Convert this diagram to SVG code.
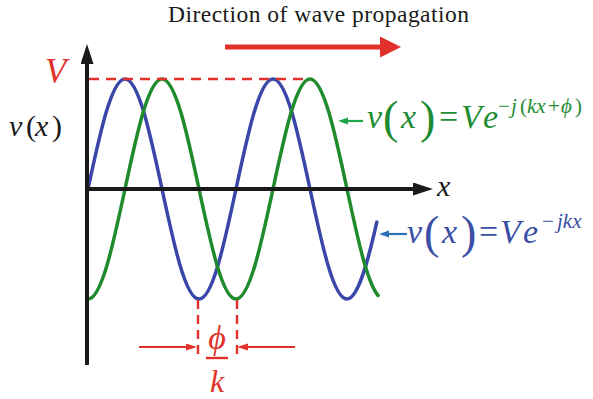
<svg xmlns="http://www.w3.org/2000/svg" width="593" height="399" viewBox="0 0 593 399">
<style>
text{font-family:'Liberation Serif','Times New Roman',Times,'DejaVu Serif',serif}
.it{font-style:italic}
.red{fill:#e2312a}
.grn{fill:#1e8c32}
.blu{fill:#3a4ea6}
.blk{fill:#1a1a1a}
.wave{fill:none;stroke-width:3.5;stroke-linecap:round}
.dash{fill:none;stroke:#e2312a;stroke-width:2.4}
</style>
<defs>
<marker id="axHead" markerUnits="userSpaceOnUse" markerWidth="22" markerHeight="14" refX="1" refY="6.5" orient="auto"><path d="M0,0 L20,6.5 L0,13 z" fill="#1a1a1a"/></marker>
<marker id="dirHead" markerUnits="userSpaceOnUse" markerWidth="24" markerHeight="24" refX="1" refY="10.5" orient="auto"><path d="M0,0 L21,10.5 L0,21 z" fill="#e2312a"/></marker>
<marker id="redHead" markerUnits="userSpaceOnUse" markerWidth="12" markerHeight="8" refX="1" refY="3.5" orient="auto"><path d="M0,0 L11,3.5 L0,7 z" fill="#e2312a"/></marker>
<marker id="grnHead" markerUnits="userSpaceOnUse" markerWidth="12" markerHeight="8" refX="1" refY="3.5" orient="auto"><path d="M0,0 L10,3.5 L0,7 z" fill="#21a64a"/></marker>
<marker id="bluHead" markerUnits="userSpaceOnUse" markerWidth="12" markerHeight="8" refX="1" refY="3.5" orient="auto"><path d="M0,0 L10,3.5 L0,7 z" fill="#2b72b9"/></marker>
</defs>
<rect width="593" height="399" fill="#ffffff"/>

<g id="title">
<text class="blk" x="168" y="22" font-size="23.5" textLength="301" lengthAdjust="spacing">Direction of wave propagation</text>
</g>

<g id="wave-blue">
<path class="wave" stroke="#3a46a8" d="M88,189 C100.07,132.65 111.61,79 125,79 C138.39,79 149.93,132.65 162,189 C174.07,245.35 185.61,299 199,299 C212.39,299 223.93,245.35 236,189 C248.07,132.65 259.61,79 273,79 C286.39,79 297.93,132.65 310,189 C322.07,245.35 333.61,299 347,299 C357.71,299 367.24,264.66 376.8,222.1"/>
</g>
<g id="wave-green">
<path class="wave" stroke="#1f8b2c" d="M88,299 C101.39,299 112.93,245.35 125,189 C137.07,132.65 148.61,79 162,79 C175.39,79 186.93,132.65 199,189 C211.07,245.35 222.61,299 236,299 C249.39,299 260.93,245.35 273,189 C285.07,132.65 296.61,79 310,79 C323.39,79 334.93,132.65 347,189 C357.26,236.9 367.14,282.84 378.1,295.5"/>
</g>

<g id="guides">
<line class="dash" x1="89" y1="79" x2="310" y2="79" stroke-dasharray="10 7"/>
<line class="dash" x1="198" y1="300" x2="198" y2="358" stroke-dasharray="9 6"/>
<line class="dash" x1="237" y1="300" x2="237" y2="358" stroke-dasharray="9 6"/>
</g>

<g id="axes">
<line x1="87" y1="365" x2="87" y2="63" stroke="#1a1a1a" stroke-width="4" marker-end="url(#axHead)"/>
<line x1="86" y1="189" x2="414" y2="189" stroke="#1a1a1a" stroke-width="4" marker-end="url(#axHead)"/>
</g>

<g id="connectors">
<line x1="225" y1="47" x2="381" y2="47" stroke="#e2312a" stroke-width="5" marker-end="url(#dirHead)"/>
<line x1="363" y1="121" x2="347" y2="121" stroke="#21a64a" stroke-width="2.2" marker-end="url(#grnHead)"/>
<line x1="407" y1="234" x2="388" y2="234" stroke="#2b72b9" stroke-width="2.2" marker-end="url(#bluHead)"/>
<line x1="139" y1="347" x2="187" y2="347" stroke="#e2312a" stroke-width="2" marker-end="url(#redHead)"/>
<line x1="295" y1="347" x2="247" y2="347" stroke="#e2312a" stroke-width="2" marker-end="url(#redHead)"/>
</g>

<g id="label-V">
<text class="it red" x="45" y="83" font-size="35">V</text>
</g>
<g id="label-vx">
<text class="blk" font-size="30" y="136"><tspan class="it" x="9">v</tspan><tspan x="26">(</tspan><tspan class="it" x="35">x</tspan><tspan x="52">)</tspan></text>
</g>
<g id="label-x">
<text class="it blk" x="437" y="196" font-size="30">x</text>
</g>

<g id="eq-green">
<text class="grn" font-size="34"><tspan class="it" x="367" y="128">v</tspan><tspan x="383" y="133" font-size="46">(</tspan><tspan class="it" x="401" y="128">x</tspan><tspan x="420" y="133" font-size="46">)</tspan><tspan x="439" y="128">=</tspan><tspan class="it" x="461" y="128">V</tspan><tspan class="it" x="483" y="128">e</tspan><tspan font-size="21" x="498" y="113">−</tspan><tspan class="it" font-size="21" x="511" y="113">j</tspan><tspan font-size="21" x="520" y="113">(</tspan><tspan class="it" font-size="21" x="527" y="113">kx</tspan><tspan font-size="21" x="548" y="113">+</tspan><tspan class="it" font-size="21" x="561" y="113">ϕ</tspan><tspan font-size="21" x="575" y="113">)</tspan></text>
</g>

<g id="eq-blue">
<text class="blu" font-size="34"><tspan class="it" x="407" y="243">v</tspan><tspan x="424" y="248" font-size="46">(</tspan><tspan class="it" x="442" y="243">x</tspan><tspan x="461" y="248" font-size="46">)</tspan><tspan x="479" y="243">=</tspan><tspan class="it" x="500" y="243">V</tspan><tspan class="it" x="523" y="243">e</tspan><tspan font-size="21" x="542" y="228">−</tspan><tspan class="it" font-size="21" x="557" y="228">jkx</tspan></text>
</g>

<g id="label-phase">
<text class="it red" x="217" y="349" font-size="34" text-anchor="middle">ϕ</text>
<line x1="206" y1="358" x2="228" y2="358" stroke="#e2312a" stroke-width="2.4"/>
<text class="it red" x="217" y="392" font-size="32" text-anchor="middle">k</text>
</g>
</svg>
